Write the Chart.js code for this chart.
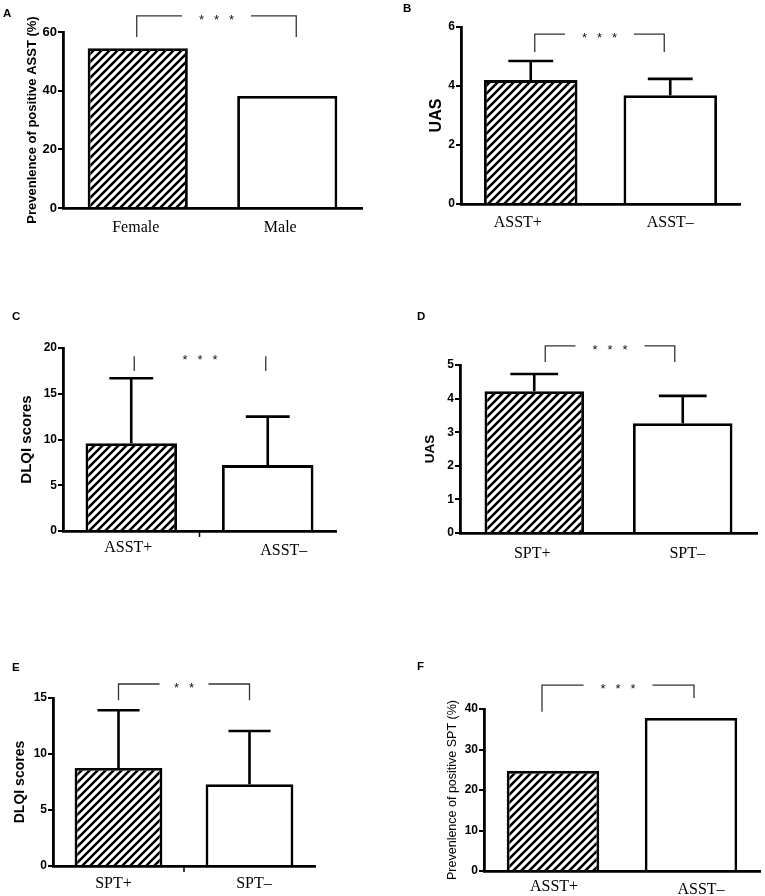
<!DOCTYPE html>
<html>
<head>
<meta charset="utf-8">
<script src="https://cdn.jsdelivr.net/npm/chart.js@4.4.0/dist/chart.umd.min.js"></script>
<style>
body { margin: 0; background: #fff; }
#page { position: relative; width: 765px; height: 896px; }
#page canvas { position: absolute; }
</style>
</head>
<body>
<div id="page"></div>
<script>
// panel A: prevalence of positive ASST by sex
const sexLabels = ['Female', 'Male'];
const asstPrevalence = [54.5, 38.2];
const ticksA = [0, 20, 40, 60];

// panel B: UAS by ASST
const asstLabels = ['ASST+', 'ASST\u2013'];
const uasByAsst = [4.2, 3.69];
const uasByAsstSd = [0.65, 0.55];
const ticksB = [0, 2, 4, 6];

// panel C: DLQI by ASST
const dlqiByAsst = [9.6, 7.2];
const dlqiByAsstSd = [7.1, 5.3];
const ticksC = [0, 5, 10, 15, 20];

// panel D: UAS by SPT
const sptLabels = ['SPT+', 'SPT\u2013'];
const uasBySpt = [4.22, 3.27];
const uasBySptSd = [0.51, 0.81];
const ticksD = [0, 1, 2, 3, 4, 5];

// panel E: DLQI by SPT
const dlqiBySpt = [8.75, 7.3];
const dlqiBySptSd = [5.15, 4.75];
const ticksE = [0, 5, 10, 15];

// panel F: prevalence of positive SPT by ASST
const sptPrevalence = [24.7, 37.8];
const ticksF = [0, 10, 20, 30, 40];

const SANS = '"Liberation Sans", Arial, sans-serif';
const SERIF = '"Liberation Serif", "Times New Roman", serif';

const panels = [
    { id: 'A', box: [0, 0, 380, 260], plot: [63, 32, 362, 208], labels: sexLabels, values: asstPrevalence, err: null,
      yTicks: ticksA, tickSize: 13, title: 'Prevenlence of positive ASST (%)', titleSize: 13, titleWeight: 'bold', titleX: 32,
      labelPad: 10, shifts: [[-2, 0], [-7, 0]], sig: { dx: [-1, 9], top: 65.5, tips: [58.3, 58.3], n: 3, line: true }, letter: [3, 17] },
    { id: 'B', box: [380, 0, 385, 260], plot: [461, 27, 740, 204], labels: asstLabels, values: uasByAsst, err: uasByAsstSd,
      yTicks: ticksB, tickSize: 12, title: 'UAS', titleSize: 16, titleWeight: 'bold', titleX: 437,
      labelPad: 9.5, shifts: [[-13, 0], [0, 0]], sig: { dx: [4, -6], top: 5.76, tips: [5.15, 5.15], n: 3, line: true }, letter: [403, 12] },
    { id: 'C', box: [0, 260, 380, 320], plot: [63, 348, 336, 531], labels: asstLabels, values: dlqiByAsst, err: dlqiByAsstSd,
      yTicks: ticksC, tickSize: 12, title: 'DLQI scores', titleSize: 15, titleWeight: 'bold', titleX: 27,
      labelPad: 7, shifts: [[-3, 0], [16, 3]], sig: { dx: [3, -2], top: 19.1, tips: [17.5, 17.5], n: 3, line: false }, midTick: true, letter: [12, 320] },
    { id: 'D', box: [380, 260, 385, 320], plot: [460, 365, 757, 533], labels: sptLabels, values: uasBySpt, err: uasBySptSd,
      yTicks: ticksD, tickSize: 12, title: 'UAS', titleSize: 13.5, titleWeight: 'bold', titleX: 430,
      labelPad: 11, shifts: [[-2, 0], [4.5, 0]], sig: { dx: [11, -8], top: 5.57, tips: [5.09, 5.09], n: 3, line: true }, letter: [417, 320] },
    { id: 'E', box: [0, 580, 380, 316], plot: [53, 698, 315, 866], labels: sptLabels, values: dlqiBySpt, err: dlqiBySptSd,
      yTicks: ticksE, tickSize: 12, title: 'DLQI scores', titleSize: 14, titleWeight: 'bold', titleX: 20,
      labelPad: 8.5, shifts: [[-5, 0], [4.5, 0]], sig: { dx: [0, 0], top: 16.25, tips: [14.8, 14.8], n: 2, line: true }, midTick: true, letter: [12, 671] },
    { id: 'F', box: [380, 580, 385, 316], plot: [484, 709, 760, 871], labels: asstLabels, values: sptPrevalence, err: null,
      yTicks: ticksF, tickSize: 12, title: 'Prevenlence of positive SPT (%)', titleSize: 12.5, titleWeight: 'normal', titleX: 453,
      labelPad: 6, shifts: [[1, 0], [10, 3]], sig: { dx: [-11, 3], top: 45.9, tips: [39.3, 42.7], n: 3, line: true }, letter: [417, 670] }
];

function hatch(ctx) {
    const c = document.createElement('canvas');
    c.width = 8; c.height = 8;
    const g = c.getContext('2d');
    g.fillStyle = '#fff';
    g.fillRect(0, 0, 8, 8);
    g.strokeStyle = '#000';
    g.lineWidth = 2.6;
    g.beginPath();
    g.moveTo(-1, 9); g.lineTo(9, -1);
    g.moveTo(-1, 1); g.lineTo(1, -1);
    g.moveTo(7, 9); g.lineTo(9, 7);
    g.stroke();
    return ctx.createPattern(c, 'repeat');
}

function extras(p) {
    return {
        id: 'extras' + p.id,
        beforeDraw(chart) {
            // nudge category labels like in the original figure
            const items = chart.scales.x.getLabelItems(chart.chartArea);
            items.forEach((it, i) => {
                if (it._shifted) return;
                it.options.translation[0] += p.shifts[i][0];
                it.options.translation[1] += p.shifts[i][1];
                it._shifted = true;
            });
        },
        afterDatasetsDraw(chart) {
            const ctx = chart.ctx;
            const xs = chart.scales.x, ys = chart.scales.y;
            const meta = chart.getDatasetMeta(0);
            const bx = p.box[0], by = p.box[1];
            ctx.save();

            // error bars (upper only)
            if (p.err) {
                ctx.strokeStyle = '#000';
                ctx.lineWidth = 2.6;
                meta.data.forEach((bar, i) => {
                    const top = ys.getPixelForValue(p.values[i] + p.err[i]);
                    const half = bar.width * 0.24;
                    ctx.beginPath();
                    ctx.moveTo(bar.x, bar.y);
                    ctx.lineTo(bar.x, top);
                    ctx.moveTo(bar.x - half, top);
                    ctx.lineTo(bar.x + half, top);
                    ctx.stroke();
                });
            }

            // significance bracket
            const s = p.sig;
            const x1 = xs.getPixelForValue(0) + s.dx[0];
            const x2 = xs.getPixelForValue(1) + s.dx[1];
            const yt = ys.getPixelForValue(s.top);
            const mid = (x1 + x2) / 2;
            const gap = 20 * s.n + 9;
            ctx.strokeStyle = '#333';
            ctx.lineWidth = 1.3;
            ctx.beginPath();
            ctx.moveTo(x1, ys.getPixelForValue(s.tips[0]));
            ctx.lineTo(x1, yt);
            if (s.line) {
                ctx.lineTo(mid - gap / 2, yt);
                ctx.moveTo(mid + gap / 2, yt);
                ctx.lineTo(x2, yt);
            } else {
                ctx.moveTo(x2, yt);
            }
            ctx.lineTo(x2, ys.getPixelForValue(s.tips[1]));
            ctx.stroke();

            ctx.fillStyle = '#111';
            ctx.font = '13px ' + SANS;
            ctx.textAlign = 'center';
            ctx.textBaseline = 'alphabetic';
            for (let k = 0; k < s.n; k++) {
                ctx.fillText('*', mid + 15 * (k - (s.n - 1) / 2), yt + 8);
            }

            // small tick between the two categories
            if (p.midTick) {
                const xm = (xs.getPixelForValue(0) + xs.getPixelForValue(1)) / 2;
                ctx.strokeStyle = '#000';
                ctx.lineWidth = 1.5;
                ctx.beginPath();
                ctx.moveTo(xm, ys.bottom);
                ctx.lineTo(xm, ys.bottom + 6);
                ctx.stroke();
            }

            // panel letter
            ctx.fillStyle = '#000';
            ctx.font = 'bold 11.5px ' + SANS;
            ctx.textAlign = 'left';
            ctx.fillText(p.id, p.letter[0] - bx, p.letter[1] - by);
            ctx.restore();
        }
    };
}

function makePanel(p) {
    const [bx, by, bw, bh] = p.box;
    const [pl, pt, pr, pb] = p.plot;
    const cv = document.createElement('canvas');
    cv.width = bw;
    cv.height = bh;
    cv.style.left = bx + 'px';
    cv.style.top = by + 'px';
    document.getElementById('page').appendChild(cv);
    const ctx = cv.getContext('2d');

    const yW = pl - (p.titleX - p.titleSize * 1.2 / 2);
    const xH = by + bh - pb;

    new Chart(ctx, {
        type: 'bar',
        data: {
            labels: p.labels,
            datasets: [{
                data: p.values,
                backgroundColor: [hatch(ctx), '#fff'],
                borderColor: '#000',
                borderWidth: 2.8,
                barPercentage: 0.67,
                categoryPercentage: 1
            }]
        },
        options: {
            responsive: false,
            animation: false,
            devicePixelRatio: 1,
            layout: { padding: { left: pl - bx - yW, top: pt - by, right: bx + bw - pr, bottom: 0 } },
            plugins: { legend: { display: false }, tooltip: { enabled: false } },
            scales: {
                x: {
                    grid: { display: false, drawTicks: false },
                    border: { color: '#000', width: 2.8 },
                    ticks: { color: '#000', padding: p.labelPad, font: { family: SERIF, size: 16 } },
                    afterFit: (sc) => { sc.height = xH; sc.paddingLeft = 0; sc.paddingRight = 0; }
                },
                y: {
                    min: p.yTicks[0],
                    max: p.yTicks[p.yTicks.length - 1],
                    afterBuildTicks: (sc) => { sc.ticks = p.yTicks.map(v => ({ value: v })); },
                    grid: { drawOnChartArea: false, drawTicks: true, tickLength: 5, color: '#000', lineWidth: 2 },
                    border: { color: '#000', width: 2.8 },
                    ticks: { color: '#000', padding: 1, font: { family: SANS, size: p.tickSize, weight: 'bold' } },
                    title: {
                        display: true, text: p.title, color: '#000', padding: 0,
                        font: { family: SANS, size: p.titleSize, weight: p.titleWeight }
                    },
                    afterFit: (sc) => { sc.width = yW; sc.paddingTop = 0; sc.paddingBottom = 0; }
                }
            }
        },
        plugins: [extras(p)]
    });
}

panels.forEach(makePanel);
</script>
</body>
</html>
